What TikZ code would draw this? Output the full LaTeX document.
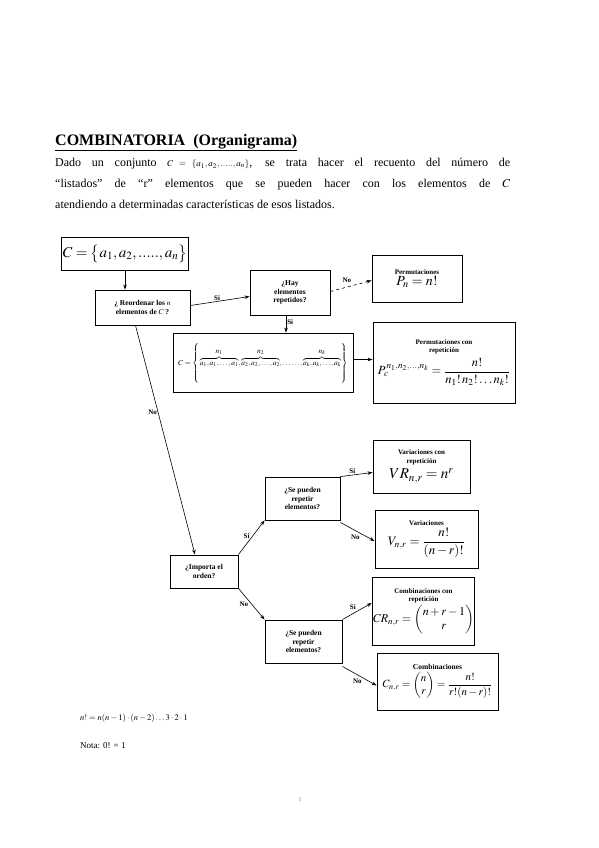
\documentclass[tikz,border=0pt]{standalone}
\usepackage{amsmath}
\usepackage[no-math]{fontspec}
\usepackage{mathptmx}
\setmainfont{Liberation Serif}
\usetikzlibrary{arrows.meta}
\newcommand{\bxttl}[1]{{\bfseries\fontsize{7}{8}\selectfont #1}}
\begin{document}
\begin{tikzpicture}[x=1pt,y=-1pt,
  box/.style={draw, line width=0.9pt, inner sep=1pt, align=center, font=\fontsize{7}{8.5}\selectfont},
  qtext/.style={font=\bfseries\fontsize{7.5}{8.5}\selectfont},
  lbl/.style={font=\bfseries\fontsize{7}{8}\selectfont, inner sep=1pt},
  arr/.style={-{Stealth[length=5pt,width=3.5pt]}, line width=0.6pt}]
\useasboundingbox[fill=white] (0,0) rectangle (599,848);

% title and paragraph
\node[anchor=base west, inner sep=0, font=\bfseries\fontsize{16}{19}\selectfont] (title) at (55,145) {\underline{COMBINATORIA\ \ (Organigrama)}};
\node[anchor=north west, inner sep=0, text width=455pt, align=justify, font=\fontsize{12}{21}\selectfont] (para) at (55,158)
 {Dado un conjunto {\small$C=\{a_1,a_2,.....,a_n\}$}, se trata hacer el recuento del número de\linebreak
 “listados” de “r” elementos que se pueden hacer con los elementos de $C$\linebreak
 atendiendo a determinadas características de esos listados.};

% boxes
\node[box, minimum width=126pt, minimum height=33pt] (cbox) at (125,253.5)
 {\fontsize{15}{18}\selectfont $C=\bigl\{a_1,a_2,.....,a_n\bigr\}$};
\node[box, qtext, minimum width=95pt, minimum height=35pt] (reord) at (142.5,307.5)
 {¿ Reordenar los $n$\\ elementos de $C$ ?};
\node[box, qtext, minimum width=80pt, minimum height=45pt] (hay) at (290,292.5)
 {¿Hay\\ elementos\\ repetidos?};
\node[box, minimum width=90pt, minimum height=47pt] (perm) at (417,278.5)
 {\bxttl{Permutaciones}\\[1pt]{\fontsize{14}{15}\selectfont $P_n=n!$}};
\node[box, minimum width=180pt, minimum height=59pt] (cset) at (263,362.5)
 {\fontsize{7.5}{9}\selectfont $C=\left\{\rule[-16pt]{0pt}{40pt}\overbrace{a_1,a_1,\ldots,a_1}^{\textstyle n_1},\overbrace{a_2,a_2,\ldots,a_2}^{\textstyle n_2},\ldots\ldots,\overbrace{a_k,a_k,\ldots,a_k}^{\textstyle n_k}\right\}$};
\node[box, minimum width=142pt, minimum height=81pt] (permrep) at (444,362.5)
 {\bxttl{Permutaciones con}\\ \bxttl{repetición}\\[3pt]{\fontsize{12.5}{14}\selectfont $P_c^{\,n_1,n_2,\ldots,n_k}=\dfrac{n!}{n_1!\,n_2!\ldots n_k!}$}};
\node[box, qtext, minimum width=68pt, minimum height=33pt] (importa) at (204,571.5)
 {¿Importa el\\ orden?};
\node[box, qtext, minimum width=75pt, minimum height=43pt] (rep1) at (302.5,498.5)
 {¿Se pueden\\ repetir\\ elementos?};
\node[box, minimum width=97pt, minimum height=53pt] (varrep) at (421.5,466.5)
 {\bxttl{Variaciones con}\\ \bxttl{repetición}\\[3pt]{\fontsize{15}{16}\selectfont $VR_{n,r}=n^r$}};
\node[box, minimum width=103pt, minimum height=58pt] (var) at (426.5,539)
 {\bxttl{Variaciones}\\[1pt]{\fontsize{13}{14}\selectfont $V_{n,r}=\dfrac{n!}{(n-r)!}$}};
\node[box, qtext, minimum width=77pt, minimum height=43pt] (rep2) at (303.5,641.5)
 {¿Se pueden\\ repetir\\ elementos?};
\node[box, minimum width=97pt, minimum height=68pt] (combrep) at (423.5,611)
 {\bxttl{Combinaciones con}\\ \bxttl{repetición}\\[1pt]{\fontsize{12}{14}\selectfont $CR_{n,r}=\begin{pmatrix}n+r-1\\ r\end{pmatrix}$}};
\node[box, minimum width=121pt, minimum height=57pt] (comb) at (437.5,681.5)
 {{\bfseries\fontsize{7.5}{8.5}\selectfont Combinaciones}\\[1pt]{\fontsize{11}{13}\selectfont $C_{n,r}=\begin{pmatrix}n\\ r\end{pmatrix}=\dfrac{n!}{r!(n-r)!}$}};

% connectors
\draw[arr] (cbox.south) -- (cbox.south |- reord.north);
\draw[arr] ([yshift=2pt]reord.east) -- node[lbl, above, pos=0.45] {Si} ([yshift=-4pt]hay.west);
\draw[arr, dashed] ([yshift=1pt]hay.east) -- node[lbl, above, pos=0.4, yshift=3pt] {No} ([yshift=-2pt]perm.west);
\draw[arr] ([xshift=-4pt]hay.south) -- node[lbl, right, pos=0.4] {Si} ([xshift=-4pt]hay.south |- cset.north);
\draw[arr] ([yshift=3pt]cset.east) -- ([yshift=3pt]cset.east -| permrep.west);
\draw[arr] ([xshift=-7pt]reord.south) -- node[lbl, left, pos=0.38] {No} ([xshift=-9pt]importa.north);
\draw[arr] (importa.north east) -- node[lbl, left, pos=0.55, xshift=-2pt] {Si} (rep1.south west);
\draw[arr] (importa.south east) -- node[lbl, left, pos=0.5, xshift=-2pt] {No} (rep2.north west);
\draw[arr] (rep1.north east) -- node[lbl, above left, pos=0.5] {Si} ([yshift=-6pt]varrep.west);
\draw[arr] ([yshift=-2pt]rep1.south east) -- node[lbl, below left, pos=0.6] {No} ([yshift=-2pt]var.west);
\draw[arr] (rep2.north east) -- node[lbl, above left, pos=0.5] {Si} ([yshift=8pt]combrep.west);
\draw[arr] ([yshift=-3pt]rep2.south east) -- node[lbl, below left, pos=0.6] {No} ([yshift=-4pt]comb.west);

% footnotes
\node[anchor=base west, inner sep=0, font=\fontsize{8.5}{10}\selectfont] (fact) at (80,720) {$n!=n(n-1)\cdot(n-2)\ldots3\cdot2\cdot1$};
\node[anchor=base west, inner sep=0, font=\fontsize{9}{11}\selectfont] (nota) at (80,748) {Nota: 0! = 1};
\node[inner sep=0, font=\fontsize{6}{7}\selectfont, text=gray] (pagenum) at (300,800) {1};
\end{tikzpicture}
\end{document}
